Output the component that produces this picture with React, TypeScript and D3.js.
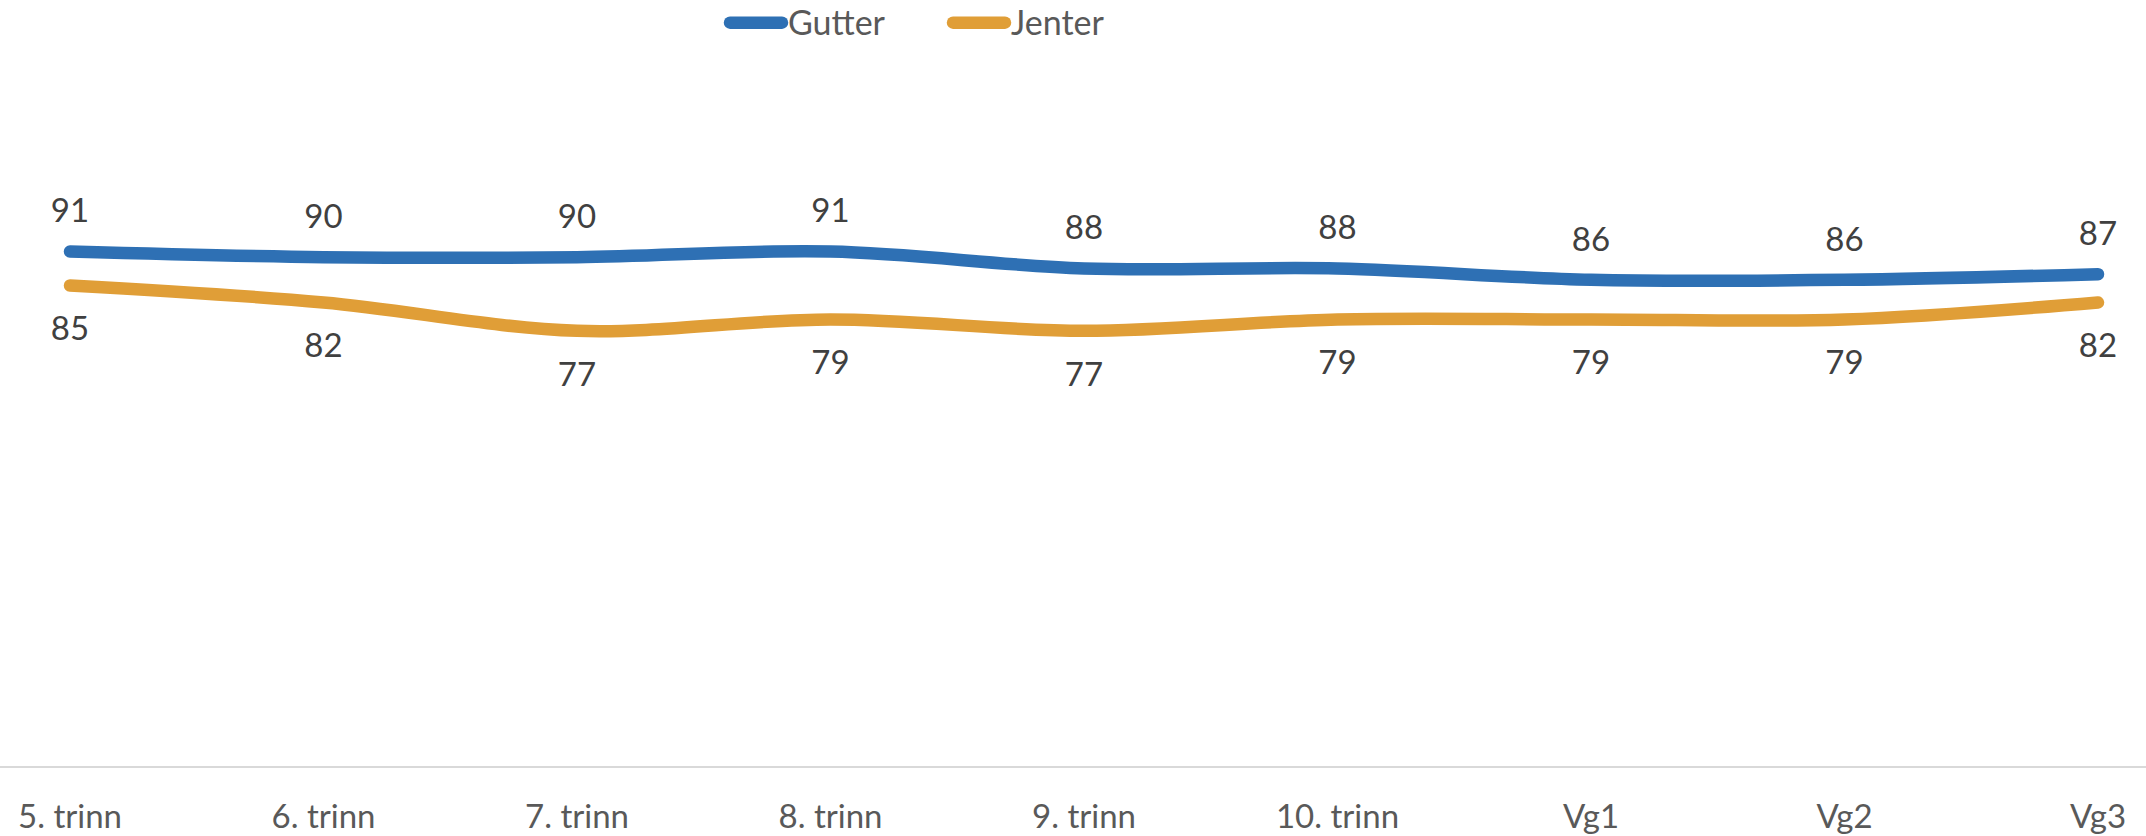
import React from "react";
import * as d3 from "d3";

const categories = ["5. trinn", "6. trinn", "7. trinn", "8. trinn", "9. trinn", "10. trinn", "Vg1", "Vg2", "Vg3"];
const gutter = [91, 90, 90, 91, 88, 88, 86, 86, 87];
const jenter = [85, 82, 77, 79, 77, 79, 79, 79, 82];
const seriesNames = ["Gutter", "Jenter"];
const seriesColors = ["#2e70b4", "#e09e37"];

const W = 2146;
const H = 836;
const FONT = "Lato, 'Liberation Sans', sans-serif";

export default function App() {
  const x = d3.scalePoint<string>().domain(categories).range([70, 2098]);
  const y = d3.scaleLinear().domain([0, 100]).range([767, 200.5]);
  const line = d3
    .line<number>()
    .x((_, i) => x(categories[i]) as number)
    .y((d) => y(d))
    .curve(d3.curveCardinal.tension(0));

  const series = [gutter, jenter];

  return (
    <svg
      width={W}
      height={H}
      style={{ position: "absolute", left: 0, top: 0, display: "block", background: "#fff" }}
      fontFamily={FONT}
    >
      <rect x={0} y={0} width={W} height={H} fill="#fff" />
      {/* axis line */}
      <line x1={0} x2={W} y1={y(0)} y2={y(0)} stroke="#d9d9d9" strokeWidth={2} />
      {/* category labels */}
      {categories.map((c) => (
        <text key={c} x={x(c)} y={828} textAnchor="middle" fontSize={33} fill="#595959">
          {c}
        </text>
      ))}
      {/* lines */}
      {series.map((s, si) => (
        <path
          key={si}
          d={line(s) || ""}
          fill="none"
          stroke={seriesColors[si]}
          strokeWidth={12.5}
          strokeLinecap="round"
          strokeLinejoin="round"
        />
      ))}
      {/* data labels */}
      {gutter.map((v, i) => (
        <text key={"g" + i} x={x(categories[i])} y={y(v) - 29} textAnchor="middle" fontSize={33} fill="#404040">
          {v}
        </text>
      ))}
      {jenter.map((v, i) => (
        <text key={"j" + i} x={x(categories[i])} y={y(v) + 55} textAnchor="middle" fontSize={33} fill="#404040">
          {v}
        </text>
      ))}
      {/* legend */}
      {seriesNames.map((n, i) => {
        const lx = i === 0 ? 730 : 953;
        return (
          <g key={n}>
            <line x1={lx} x2={lx + 52} y1={22.7} y2={22.7} stroke={seriesColors[i]} strokeWidth={12.5} strokeLinecap="round" />
            <text x={lx + 58} y={35} fontSize={34} fill="#595959">
              {n}
            </text>
          </g>
        );
      })}
    </svg>
  );
}
